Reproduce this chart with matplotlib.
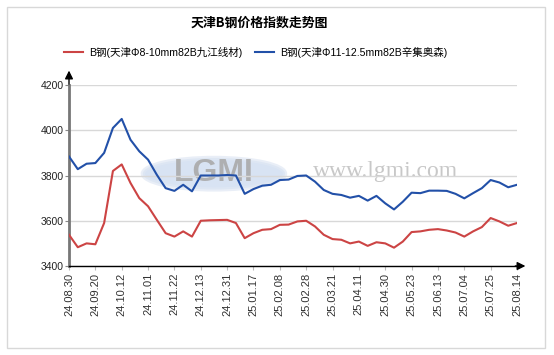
import matplotlib.pyplot as plt
from matplotlib.patches import Ellipse, Rectangle

plt.rcParams['font.family'] = ['Liberation Sans', 'Noto Sans CJK SC', 'DejaVu Sans']

# x tick labels (dates)
dates = ['24.08.30', '24.09.20', '24.10.12', '24.11.01', '24.11.22', '24.12.13',
         '24.12.31', '25.01.17', '25.02.08', '25.02.28', '25.03.21', '25.04.11',
         '25.04.30', '25.05.23', '25.06.13', '25.07.04', '25.07.25', '25.08.14']

# about three readings between two labelled dates
red = [3538, 3483, 3500, 3496, 3590, 3820, 3849, 3767, 3700, 3664, 3604, 3545,
       3530, 3553, 3530, 3600, 3602, 3603, 3604, 3590, 3523, 3545, 3560, 3563,
       3582, 3583, 3597, 3600, 3575, 3538, 3519, 3516, 3500, 3508, 3489, 3505,
       3500, 3481, 3508, 3550, 3553, 3560, 3563, 3557, 3548, 3530, 3553, 3572,
       3612, 3597, 3578, 3590]
blue = [3884, 3828, 3852, 3855, 3900, 4010, 4050, 3958, 3907, 3870, 3803, 3744,
        3732, 3759, 3730, 3800, 3800, 3800, 3802, 3800, 3719, 3740, 3755, 3759,
        3780, 3782, 3798, 3800, 3773, 3736, 3719, 3714, 3702, 3710, 3689, 3710,
        3677, 3650, 3684, 3724, 3722, 3733, 3733, 3732, 3719, 3699, 3722, 3744,
        3780, 3769, 3748, 3759]
names = ['B钢(天津Φ8-10mm82B九江线材)', 'B钢(天津Φ11-12.5mm82B辛集奥森)']
yticks = [3400, 3600, 3800, 4000, 4200]

x = [i / 3 for i in range(len(red))]

fig = plt.figure(figsize=(5.54, 3.55), dpi=100)
W, H = 554, 355
ax = fig.add_axes([69 / W, (H - 266) / H, (517 - 69) / W, (266 - 85) / H])

# outer frame
fig.patches.append(Rectangle((7 / W, 7 / H), 538 / W, 341 / H, transform=fig.transFigure,
                             fill=False, edgecolor='#d8d8d8', linewidth=1))

# watermark
ax.add_patch(Ellipse((5.5, 3808), 5.4, 140, facecolor='#c8d8ee', edgecolor='#e0e8f4',
                     alpha=0.7, linewidth=3, zorder=0))
ax.text(5.5, 3812, 'LGMI', fontsize=23, fontweight='bold', color='#aaaaaa',
        ha='center', va='center', zorder=0, alpha=0.9)
ax.text(12.0, 3818, 'www.lgmi.com', fontsize=17, family='Liberation Serif',
        color='#c8c8c8', ha='center', va='center', zorder=0)

ax.plot(x, red, color='#cc4444', linewidth=1.5, label=names[0], zorder=3)
ax.plot(x, blue, color='#2250a8', linewidth=1.5, label=names[1], zorder=3)

ax.set_xlim(0, 17)
ax.set_ylim(3400, 4200)
ax.set_xticks(range(len(dates)))
ax.set_xticklabels(dates, rotation=90, fontsize=8, color='#333333')
ax.set_yticks(yticks)
ax.set_yticklabels([str(v) for v in yticks], fontsize=7.5, color='#222222')
ax.tick_params(axis='x', length=3, color='#bbbbbb', pad=2)
ax.tick_params(axis='y', length=3, color='#888888', pad=1)
ax.grid(axis='y', color='#d8d8d8', linewidth=1)
ax.set_axisbelow(True)
for s in ['top', 'right']:
    ax.spines[s].set_visible(False)
ax.spines['left'].set_color('#777777')
ax.spines['left'].set_linewidth(2)
ax.spines['bottom'].set_color('black')
ax.spines['bottom'].set_linewidth(1)

# axis arrows
ax.annotate('', xy=(1.025, 0), xytext=(0.99, 0), xycoords='axes fraction',
            arrowprops=dict(arrowstyle='-|>', color='black', lw=1, mutation_scale=12),
            annotation_clip=False)
ax.annotate('', xy=(0, 1.095), xytext=(0, 0.99), xycoords='axes fraction',
            arrowprops=dict(arrowstyle='-|>', color='black', lw=1, mutation_scale=12),
            annotation_clip=False)

fig.text(0.468, 1 - 23 / H, '天津B钢价格指数走势图', ha='center', va='center',
         fontsize=9.3, fontweight='bold', family=['Noto Sans CJK SC', 'DejaVu Sans'])
fig.legend(loc='center', bbox_to_anchor=(0.462, 1 - 52 / H), ncol=2, frameon=False,
           fontsize=7.6, handlelength=1.8, columnspacing=1.2, handletextpad=0.6)

fig.savefig('out.png', dpi=100)
